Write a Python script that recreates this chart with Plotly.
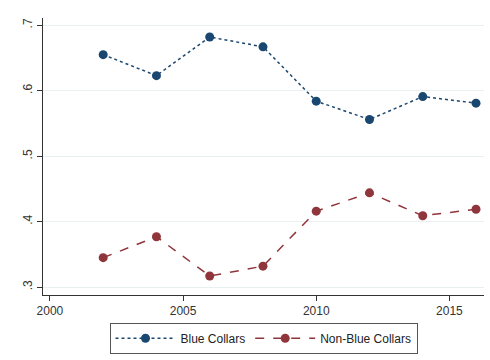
import plotly.graph_objects as go

years = [2002, 2004, 2006, 2008, 2010, 2012, 2014, 2016]
blue_collars = [0.655, 0.623, 0.682, 0.667, 0.584, 0.556, 0.591, 0.581]
non_blue_collars = [0.345, 0.377, 0.317, 0.332, 0.416, 0.444, 0.409, 0.419]
x_ticks = [2000, 2005, 2010, 2015]
y_ticks = [0.3, 0.4, 0.5, 0.6, 0.7]
y_tick_labels = [".3", ".4", ".5", ".6", ".7"]

fig = go.Figure()
fig.add_trace(go.Scatter(
    x=years, y=blue_collars, name="Blue Collars", mode="lines+markers",
    line=dict(color="#1a476f", width=1.5, dash="dot"),
    marker=dict(color="#1a476f", size=9),
))
fig.add_trace(go.Scatter(
    x=years, y=non_blue_collars, name="Non-Blue Collars", mode="lines+markers",
    line=dict(color="#90353b", width=1.5, dash="dash"),
    marker=dict(color="#90353b", size=9),
))

fig.update_layout(
    width=490, height=360,
    margin=dict(l=43, r=6, t=18, b=65),
    paper_bgcolor="white", plot_bgcolor="white",
    font=dict(family="Liberation Sans, Arial, sans-serif", size=12, color="#333333"),
    showlegend=True,
    legend=dict(
        orientation="h", x=0.5, xanchor="center", y=-0.1, yanchor="top",
        bordercolor="#555555", borderwidth=1, bgcolor="white",
        font=dict(size=12, color="#222222"),
        itemwidth=60,
    ),
    xaxis=dict(
        range=[1999.74, 2016.3], tickvals=x_ticks,
        showgrid=False, zeroline=False,
        showline=True, linecolor="#333333", linewidth=1,
        ticks="outside", ticklen=5, tickcolor="#333333",
    ),
    yaxis=dict(
        range=[0.288, 0.711], tickvals=y_ticks, ticktext=y_tick_labels,
        tickangle=-90,
        showgrid=True, gridcolor="#e8f0f1", gridwidth=1, zeroline=False,
        showline=True, linecolor="#333333", linewidth=1,
        ticks="outside", ticklen=5, tickcolor="#333333",
    ),
)

fig.write_html("out.html")
